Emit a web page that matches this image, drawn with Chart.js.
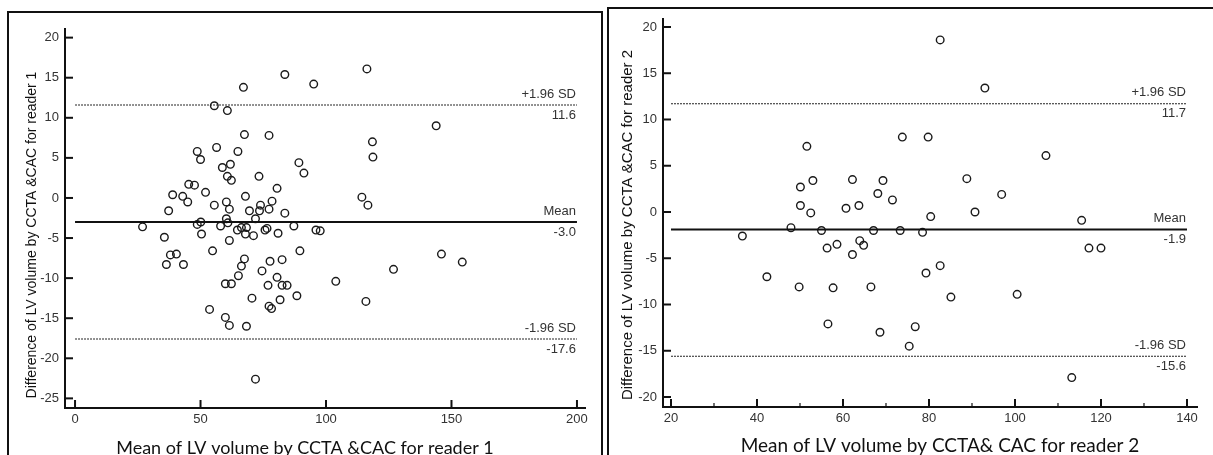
<!DOCTYPE html>
<html>
<head>
<meta charset="utf-8">
<script src="https://cdn.jsdelivr.net/npm/chart.js@4.4.0/dist/chart.umd.min.js"></script>
<style>
  body { margin: 0; background: #fff; width: 1213px; height: 455px; overflow: hidden; position: relative; }
  .box { position: absolute; border: 2px solid #111; box-sizing: border-box; }
  #box1 { left: 7px; top: 11px; width: 596px; height: 470px; }
  #box2 { left: 607px; top: 7px; width: 630px; height: 470px; }
  canvas { position: absolute; top: 0; }
  #c1 { left: 0; }
  #c2 { left: 604px; }
</style>
</head>
<body>
<div class="box" id="box1"></div>
<div class="box" id="box2"></div>
<canvas id="c1" width="604" height="455"></canvas>
<canvas id="c2" width="609" height="455"></canvas>
<script>
// reader 1: mean of the two methods (x) and their difference (y)
const reader1Mean = [26.9, 35.6, 36.4, 37.3, 38.0, 38.9, 40.4, 42.9, 43.2, 44.9,
  45.3, 47.6, 48.7, 48.7, 50.0, 50.1, 50.4, 52.0, 53.6, 54.8,
  55.5, 55.5, 56.4, 58.0, 58.7, 59.9, 59.9, 60.3, 60.3, 60.7,
  60.7, 60.9, 61.5, 61.5, 61.5, 61.9, 62.3, 62.3, 64.7, 64.9,
  65.1, 66.3, 66.3, 67.1, 67.5, 67.5, 67.9, 67.9, 68.3, 68.3,
  69.5, 70.5, 71.1, 71.9, 71.9, 73.3, 73.9, 73.5, 74.5, 75.7,
  76.5, 76.9, 77.3, 77.3, 77.7, 77.3, 78.3, 78.5, 80.5, 80.5,
  80.9, 81.7, 82.5, 82.5, 83.6, 83.6, 84.5, 87.2, 88.4, 89.2,
  89.6, 91.2, 95.1, 96.0, 97.7, 103.9, 114.3, 115.9, 116.3, 116.7,
  118.5, 118.7, 126.9, 143.9, 146.0, 154.3];
const reader1Diff = [-3.6, -4.9, -8.3, -1.6, -7.1, 0.4, -7.0, 0.2, -8.3, -0.5,
  1.7, 1.6, 5.8, -3.3, 4.8, -3.0, -4.5, 0.7, -13.9, -6.6,
  11.5, -0.9, 6.3, -3.5, 3.8, -10.7, -14.9, -0.5, -2.6, 10.9,
  2.7, -3.1, -1.4, -5.3, -15.9, 4.2, 2.2, -10.7, -4.0, 5.8,
  -9.7, -3.7, -8.5, 13.8, 7.9, -7.6, 0.2, -4.5, -3.7, -16.0,
  -1.6, -12.5, -4.7, -2.6, -22.6, 2.7, -0.9, -1.6, -9.1, -4.0,
  -3.8, -10.9, 7.8, -1.4, -7.9, -13.5, -13.8, -0.4, 1.2, -9.9,
  -4.4, -12.7, -7.7, -10.9, 15.4, -1.9, -10.9, -3.5, -12.2, 4.4,
  -6.6, 3.1, 14.2, -4.0, -4.1, -10.4, 0.1, -12.9, 16.1, -0.9,
  7.0, 5.1, -8.9, 9.0, -7.0, -8.0];

// reader 2
const reader2Mean = [36.6, 42.3, 47.9, 49.8, 50.1, 50.1, 51.6, 52.5, 53.0, 55.0,
  56.3, 56.5, 57.7, 58.6, 60.7, 62.2, 62.2, 63.7, 63.9, 64.8,
  66.5, 67.1, 68.1, 68.6, 69.3, 71.5, 73.3, 73.8, 75.4, 76.8,
  78.5, 79.3, 79.8, 80.4, 82.6, 82.6, 85.1, 88.8, 90.7, 93.0,
  96.9, 100.5, 107.2, 113.2, 115.5, 117.2, 120.0];
const reader2Diff = [-2.6, -7.0, -1.7, -8.1, 2.7, 0.7, 7.1, -0.1, 3.4, -2.0,
  -3.9, -12.1, -8.2, -3.5, 0.4, 3.5, -4.6, 0.7, -3.1, -3.6,
  -8.1, -2.0, 2.0, -13.0, 3.4, 1.3, -2.0, 8.1, -14.5, -12.4,
  -2.2, -6.6, 8.1, -0.5, 18.6, -5.8, -9.2, 3.6, 0.0, 13.4,
  1.9, -8.9, 6.1, -17.9, -0.9, -3.9, -3.9];

// limits of agreement: upper, mean, lower
const limitNames = ['+1.96 SD', 'Mean', '-1.96 SD'];
const reader1Limits = [11.6, -3.0, -17.6];
const reader2Limits = [11.7, -1.9, -15.6];

const reader1XTicks = [0, 50, 100, 150, 200];
const reader1YTicks = [20, 15, 10, 5, 0, -5, -10, -15, -20, -25];
const reader2XTicks = [20, 40, 60, 80, 100, 120, 140];
const reader2XMinor = [30, 50, 70, 90, 110, 130];
const reader2YTicks = [20, 15, 10, 5, 0, -5, -10, -15, -20];

const tickFont = '13px "Liberation Sans", Arial, sans-serif';

// axes, ticks, limit labels and titles drawn on the chart's own scales
const axesPlugin = {
  id: 'axes',
  afterDraw(chart, args, o) {
    const { ctx, chartArea: a, scales: { x, y } } = chart;
    ctx.save();
    ctx.strokeStyle = '#111';
    ctx.fillStyle = '#333';
    ctx.lineWidth = 2;
    ctx.beginPath();
    ctx.moveTo(a.left, a.top);
    ctx.lineTo(a.left, a.bottom);
    ctx.lineTo(a.right, a.bottom);
    ctx.stroke();

    ctx.font = tickFont;
    ctx.textAlign = 'right';
    ctx.textBaseline = 'middle';
    o.yTicks.forEach(v => {
      const py = y.getPixelForValue(v);
      ctx.beginPath();
      ctx.moveTo(a.left, py);
      ctx.lineTo(a.left + 8, py);
      ctx.stroke();
      ctx.fillText(String(v), a.left - 6, py);
    });
    ctx.textAlign = 'center';
    o.xTicks.forEach(v => {
      const px = x.getPixelForValue(v);
      ctx.beginPath();
      ctx.moveTo(px, a.bottom);
      ctx.lineTo(px, a.bottom - 8);
      ctx.stroke();
      ctx.fillText(String(v), px, a.bottom + 11);
    });
    ctx.lineWidth = 1.2;
    (o.xMinor || []).forEach(v => {
      const px = x.getPixelForValue(v);
      ctx.beginPath();
      ctx.moveTo(px, a.bottom);
      ctx.lineTo(px, a.bottom - 4);
      ctx.stroke();
    });

    // limit labels at the right end of each line
    ctx.textAlign = 'right';
    const rx = x.getPixelForValue(o.lineEnd) - 1;
    o.limits.forEach((v, i) => {
      const py = y.getPixelForValue(v);
      ctx.fillText(limitNames[i], rx, py - 11);
      ctx.fillText(v.toFixed(1), rx, py + 10);
    });

    // axis titles
    ctx.fillStyle = '#111';
    ctx.textAlign = 'center';
    ctx.font = o.yTitleFont;
    ctx.save();
    ctx.translate(o.yTitlePos[0], o.yTitlePos[1]);
    ctx.rotate(-Math.PI / 2);
    ctx.fillText(o.yTitle, 0, 0);
    ctx.restore();
    ctx.font = o.xTitleFont;
    ctx.fillText(o.xTitle, o.xTitlePos[0], o.xTitlePos[1]);
    ctx.restore();
  }
};

function makePanel(id, xs, ys, limits, lineStart, lineEnd, xr, yr, pad, axes) {
  const pts = xs.map((v, i) => ({ x: v, y: ys[i] }));
  const line = (v, solid) => ({
    type: 'line',
    data: [{ x: lineStart, y: v }, { x: lineEnd, y: v }],
    borderColor: solid ? '#111' : '#222',
    borderWidth: solid ? 2 : 1.1,
    borderDash: solid ? [] : [2, 1],
    pointRadius: 0,
    fill: false
  });
  return new Chart(document.getElementById(id), {
    type: 'scatter',
    data: {
      datasets: [
        line(limits[0], false),
        line(limits[1], true),
        line(limits[2], false),
        {
          data: pts,
          pointRadius: 3.8,
          pointBorderWidth: 1.4,
          borderColor: '#1a1a1a',
          backgroundColor: 'rgba(0,0,0,0)'
        }
      ]
    },
    options: {
      responsive: false,
      animation: false,
      devicePixelRatio: 1,
      layout: { padding: pad },
      scales: {
        x: { type: 'linear', min: xr[0], max: xr[1], display: false },
        y: { type: 'linear', min: yr[0], max: yr[1], display: false }
      },
      plugins: {
        legend: { display: false },
        tooltip: { enabled: false },
        axes: Object.assign({ limits: limits, lineEnd: lineEnd }, axes)
      }
    },
    plugins: [axesPlugin]
  });
}

makePanel('c1', reader1Mean, reader1Diff, reader1Limits, 0, 200,
  [-4, 203.6], [-26.2, 21.2],
  { left: 65, top: 28, right: 18, bottom: 47 },
  {
    xTicks: reader1XTicks, yTicks: reader1YTicks,
    yTitle: 'Difference of LV volume by CCTA &CAC for reader 1',
    yTitleFont: '14px "Liberation Sans", Arial, sans-serif',
    yTitlePos: [32, 235],
    xTitle: 'Mean of LV volume by CCTA &CAC for reader 1',
    xTitleFont: '18px Lato, "Open Sans", sans-serif',
    xTitlePos: [305, 448]
  });

makePanel('c2', reader2Mean, reader2Diff, reader2Limits, 20, 140,
  [18.14, 142.56], [-21.08, 20.97],
  { left: 59, top: 18, right: 15, bottom: 48 },
  {
    xTicks: reader2XTicks, xMinor: reader2XMinor, yTicks: reader2YTicks,
    yTitle: 'Difference of LV volume by CCTA &CAC for reader 2',
    yTitleFont: '15px "Liberation Sans", Arial, sans-serif',
    yTitlePos: [24, 225],
    xTitle: 'Mean of LV volume by CCTA& CAC for reader 2',
    xTitleFont: '19px Lato, "Open Sans", sans-serif',
    xTitlePos: [336, 446]
  });
</script>
</body>
</html>
